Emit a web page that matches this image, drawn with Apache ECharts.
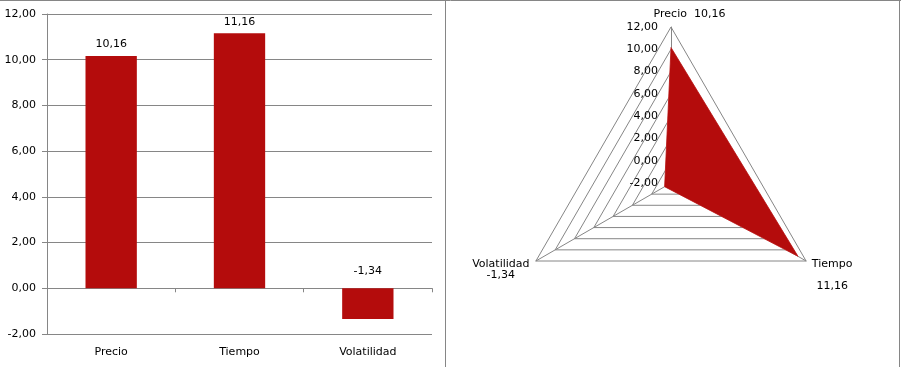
<!DOCTYPE html>
<html>
<head>
<meta charset="utf-8">
<script src="https://cdn.jsdelivr.net/npm/echarts@6/dist/echarts.min.js"></script>
<style>
html,body{margin:0;padding:0;background:#fff;}
#c{width:901px;height:367px;}
</style>
</head>
<body>
<div id="c"></div>
<script>
// ---- data ----
var categories = ['Precio', 'Tiempo', 'Volatilidad'];
var values = [10.16, 11.16, -1.34];
var axisMin = -2, axisMax = 12, axisStep = 2;
// radar goes counter-clockwise from top: Precio, Volatilidad, Tiempo
var radarOrder = [0, 2, 1];

var RED = '#B40C0C';
var GRAY = '#868686';
var FONT = 'DejaVu Sans';
function fmt(v) { return v.toFixed(2).replace('.', ','); }

var chart = echarts.init(document.getElementById('c'), null, {renderer: 'canvas'});

var barData = values.map(function (v) {
  return { value: v, label: { distance: v < 0 ? 12 : 6 } };
});

var radarIndicators = radarOrder.map(function (i, k) {
  var ind = { name: categories[i], min: axisMin, max: axisMax };
  if (k !== 0) { ind.axisLabel = { show: false }; }
  return ind;
});
var radarValues = radarOrder.map(function (i) { return values[i]; });

var option = {
  animation: false,
  backgroundColor: '#fff',
  textStyle: { fontFamily: FONT },
  grid: { left: 47, right: 469, top: 14, bottom: 33, containLabel: false },
  xAxis: [
    {
      type: 'category', data: categories, position: 'bottom',
      axisLine: { show: false, onZero: false }, axisTick: { show: false },
      axisLabel: { color: '#000', fontSize: 11, fontFamily: FONT, margin: 13 }
    },
    {
      type: 'category', data: categories, position: 'bottom',
      axisLine: { show: true, onZero: true, lineStyle: { color: GRAY } },
      axisTick: { show: true, length: 4, inside: false, lineStyle: { color: GRAY } },
      axisLabel: { show: false }
    }
  ],
  yAxis: {
    type: 'value', min: axisMin, max: axisMax, interval: axisStep,
    axisLine: { show: true, lineStyle: { color: GRAY } },
    axisTick: { show: true, length: 5, lineStyle: { color: GRAY } },
    splitLine: { show: true, lineStyle: { color: GRAY } },
    axisLabel: { formatter: fmt, color: '#000', fontSize: 11, fontFamily: FONT, margin: 11 }
  },
  radar: {
    center: [671, 183],
    radius: 156,
    shape: 'polygon',
    splitNumber: 7,
    startAngle: 90,
    indicator: radarIndicators,
    axisName: {
      color: '#000', fontSize: 11, fontFamily: FONT,
      formatter: function (name) {
        var v = fmt(values[categories.indexOf(name)]);
        if (name === categories[0]) return '{pad|}' + name + '  ' + v;
        if (name === categories[1]) return '{t|}\n{t|}\n{t|' + name + '}\n{t|}\n{t|' + v + '}';
        return '{c|}\n{c|' + name + '}\n{c|' + v + '}';
      },
      rich: {
        pad: { width: 37 },
        c: { width: 58, align: 'center', fontSize: 11, fontFamily: FONT, color: '#000', lineHeight: 11 },
        t: { width: 40, align: 'center', fontSize: 11, fontFamily: FONT, color: '#000', lineHeight: 11 }
      }
    },
    nameGap: 7,
    axisLine: { show: true, lineStyle: { color: GRAY } },
    axisTick: { show: false },
    axisLabel: { show: true, formatter: fmt, color: '#000', fontSize: 11, fontFamily: FONT, margin: 13, showMinLabel: true, showMaxLabel: true },
    splitLine: { show: true, lineStyle: { color: GRAY } },
    splitArea: { show: false }
  },
  series: [
    {
      type: 'bar', xAxisIndex: 0, yAxisIndex: 0,
      data: barData, barWidth: '40%',
      itemStyle: { color: RED },
      label: { show: true, position: 'top', formatter: function (p) { return fmt(p.value); }, color: '#000', fontSize: 11, fontFamily: FONT }
    },
    {
      type: 'radar',
      symbol: 'none',
      data: [{ value: radarValues }],
      lineStyle: { color: '#C84040', width: 1 },
      areaStyle: { color: RED, opacity: 1 },
      itemStyle: { color: RED }
    }
  ],
  graphic: [
    { type: 'line', shape: { x1: 0, y1: 0.5, x2: 901, y2: 0.5 }, style: { stroke: GRAY, lineWidth: 1 }, z: 100 },
    { type: 'line', shape: { x1: 445.5, y1: 0, x2: 445.5, y2: 367 }, style: { stroke: GRAY, lineWidth: 1 }, z: 100 },
    { type: 'line', shape: { x1: 899.5, y1: 0, x2: 899.5, y2: 367 }, style: { stroke: GRAY, lineWidth: 1 }, z: 100 }
  ]
};
chart.setOption(option);
</script>
</body>
</html>
